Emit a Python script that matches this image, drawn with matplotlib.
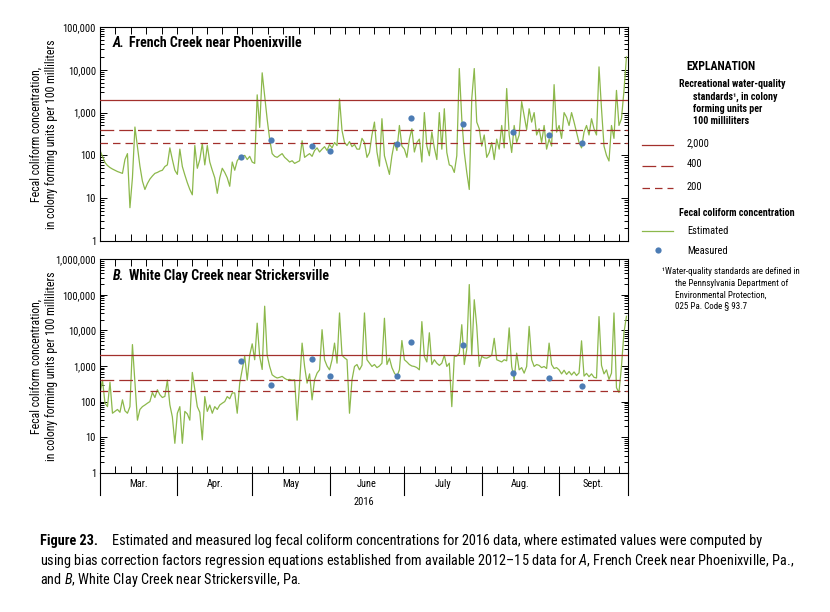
import numpy as np
import pandas as pd
import matplotlib
matplotlib.use("Agg")
import matplotlib.pyplot as plt
import matplotlib.dates as mdates
from matplotlib.lines import Line2D
from matplotlib.ticker import LogLocator, FixedLocator, FuncFormatter, NullFormatter

plt.rcParams['font.family'] = ['Roboto Condensed', 'DejaVu Sans']
plt.rcParams['mathtext.fontset'] = 'custom'
plt.rcParams['mathtext.rm'] = 'Roboto Condensed'
plt.rcParams['mathtext.it'] = 'Roboto Condensed:italic'

# daily estimated fecal coliform, colonies per 100 mL, 1 Mar - 28 Sept 2016
french_est = [
    # Mar.
    130, 95, 68, 58, 52, 48, 45, 42, 40, 38, 80, 110, 6, 30, 460, 160, 56, 25, 16, 22,
    28, 33, 38, 40, 43, 45, 55, 60, 150, 80, 45,
    # Apr.
    36, 140, 55, 35, 23, 16, 12, 170, 50, 80, 190, 60, 170, 70, 45, 30, 13, 30, 50, 40,
    30, 19, 70, 45, 75, 90, 95, 100, 80, 95,
    # May
    70, 65, 2600, 450, 8500, 2500, 700, 240, 110, 95, 90, 100, 110, 90, 80, 70, 75, 65, 70, 75,
    220, 90, 100, 110, 95, 130, 150, 120, 140, 160, 130,
    # June
    180, 150, 200, 170, 2100, 380, 200, 170, 210, 160, 180, 140, 140, 250, 200, 90, 117, 300, 600, 120,
    56, 720, 98, 60, 36, 98, 200, 130, 500, 165,
    # July
    140, 90, 240, 420, 120, 200, 240, 70, 1000, 165, 98, 350, 150, 80, 1000, 140, 1230, 117, 60, 56,
    40, 98, 10700, 720, 117, 40, 16, 2100, 10700, 600, 420,
    # Aug.
    165, 300, 90, 117, 200, 80, 240, 140, 500, 150, 3650, 300, 117, 500, 200, 300, 1800, 850, 400, 1230,
    600, 1000, 300, 420, 200, 500, 140, 240, 165, 4500, 350,
    # Sept.
    500, 250, 1000, 780, 500, 1000, 600, 350, 200, 150, 350, 500, 300, 720, 420, 300, 11700, 1230, 165, 100,
    74, 500, 250, 3300, 500, 720, 3200, 20000,
]

white_est = [
    # Mar.
    175, 400, 90, 72, 350, 47, 53, 60, 50, 112, 55, 47, 72, 4000, 330, 30, 60, 72, 80, 90,
    100, 180, 130, 215, 155, 130, 140, 400, 81, 37, 6.7,
    # Apr.
    47, 72, 6.7, 53, 45, 30, 660, 215, 72, 50, 8.4, 138, 53, 80, 47, 72, 60, 80, 90, 100,
    138, 120, 175, 175, 47, 330, 800, 1900, 400, 2000,
    # May
    4200, 1500, 16000, 1860, 800, 48000, 2000, 970, 565, 500, 460, 480, 510, 450, 410, 420, 400, 410, 30, 330,
    4400, 970, 330, 600, 112, 410, 630, 780, 10500, 1500, 1000,
    # June
    780, 1500, 4400, 1200, 31000, 2000, 1700, 1500, 47, 410, 970, 1100, 780, 1050, 31000, 1500, 1200, 970, 1100, 900,
    1000, 1200, 22000, 1100, 1660, 900, 630, 510, 780, 5200,
    # July
    1500, 1300, 1100, 1000, 970, 900, 780, 17700, 1860, 1300, 8600, 1100, 1500, 1200, 1040, 1200, 2000, 970, 1200, 72,
    1860, 1900, 2300, 14500, 1100, 3000, 195000, 2000, 73000, 13000, 970,
    # Aug.
    1860, 1700, 1660, 1800, 2000, 6000, 1500, 1400, 1300, 1500, 1400, 11800, 970, 410, 2300, 780, 900, 630, 970, 13000,
    1500, 970, 1100, 1040, 900, 970, 850, 4400, 1100, 850, 900,
    # Sept.
    780, 600, 760, 580, 700, 560, 680, 540, 640, 5100, 520, 620, 500, 600, 480, 460, 24500, 1040, 600, 780,
    420, 630, 31000, 245, 180, 970, 8700, 25000,
]

sample_dates = ["2016-04-26 12:00", "2016-05-08 10:00", "2016-05-25 03:00", "2016-06-01 05:00",
                "2016-06-27 22:00", "2016-07-03 20:00", "2016-07-24 12:00", "2016-08-13 08:00",
                "2016-08-28 03:00", "2016-09-10 03:00"]
french_meas = [92, 232, 168, 125, 187, 742, 545, 352, 305, 197]
white_meas = [1400, 290, 1590, 530, 520, 4600, 3870, 630, 455, 277]

standards = [2000, 400, 200]
standard_labels = ["2,000", "400", "200"]
month_labels = ["Mar.", "Apr.", "May", "June", "July", "Aug.", "Sept."]

GREEN = "#8cb84b"
BLUE = "#4c7cb4"
RED = "#a3302c"
dash_styles = ["-", (0, (11, 4)), (0, (6, 4))]

W, H = 830, 612
def fx(x):
    return x / W
def fy(y):
    return 1 - y / H

days = pd.date_range("2016-03-01", periods=len(french_est), freq="D")
meas_days = pd.to_datetime(sample_dates)
x0 = pd.Timestamp("2016-03-01")
x1 = pd.Timestamp("2016-09-28 12:00")
month_starts = pd.date_range("2016-03-01", "2016-09-01", freq="MS")

# five tick marks per month along top and bottom
tick_pos = []
for i, ms in enumerate(month_starts):
    me = month_starts[i + 1] if i + 1 < len(month_starts) else pd.Timestamp("2016-10-01")
    span = (me - ms) / 5
    for k in range(5):
        t = ms + span * k
        if t <= x1:
            tick_pos.append(mdates.date2num(t))

fig = plt.figure(figsize=(8.3, 6.12), dpi=100)

axA = fig.add_axes([fx(100), fy(241), fx(527.7), 214 / H])
axB = fig.add_axes([fx(100), fy(472.7), fx(527.7), 213.4 / H])

panels = [
    (axA, french_est, french_meas, 1e5, "A.", "French Creek near Phoenixville", 134),
    (axB, white_est, white_meas, 1e6, "B.", "White Clay Creek near Strickersville", 366),
]

for ax, est, meas, ytop, letter, name, ylab_y in panels:
    ax.plot(days, est, color=GREEN, lw=0.9, zorder=2)
    for val, ls in zip(standards, dash_styles):
        ax.axhline(val, color=RED, lw=0.9, ls=ls, zorder=3)
    ax.plot(meas_days, meas, "o", color=BLUE, ms=4.5, mec="none", zorder=4)
    ax.set_yscale("log")
    ax.set_ylim(1, ytop)
    ax.set_xlim(x0, x1)
    ax.yaxis.set_major_locator(LogLocator(base=10, numticks=10))
    ax.yaxis.set_minor_locator(LogLocator(base=10, subs=np.arange(2, 10), numticks=20))
    ax.yaxis.set_major_formatter(FuncFormatter(lambda v, p: f"{int(round(v)):,}"))
    ax.yaxis.set_minor_formatter(NullFormatter())
    ax.xaxis.set_major_locator(FixedLocator(tick_pos))
    ax.xaxis.set_major_formatter(NullFormatter())
    ax.xaxis.set_minor_locator(FixedLocator([]))
    ax.tick_params(axis="both", which="both", direction="in", top=True, right=True,
                   labelsize=7.5, width=0.7, pad=3)
    ax.tick_params(axis="y", which="major", length=5)
    ax.tick_params(axis="y", which="minor", length=3)
    ax.tick_params(axis="x", which="major", length=5)
    for s in ax.spines.values():
        s.set_linewidth(0.8)
    ax.text(12.7 / 527.7, 0.924, letter, transform=ax.transAxes, fontsize=10,
            fontweight="bold", fontstyle="italic", va="center", ha="left")
    ax.text(29.3 / 527.7, 0.924, name, transform=ax.transAxes, fontsize=10,
            fontweight="bold", va="center", ha="left")
    fig.text(fx(43.5), fy(ylab_y),
             "Fecal coliform concentration,\nin colony forming units per 100 milliliters",
             rotation=90, ha="center", va="center", multialignment="center",
             fontsize=8.5, linespacing=1.2)

# month band under panel B
trans = axB.get_xaxis_transform()
bounds = list(month_starts) + [x1]
band = 22 / 213.4
for b in bounds:
    axB.plot([b, b], [0, -band], color="black", lw=0.8, transform=trans, clip_on=False)
for i, lab in enumerate(month_labels):
    mid = bounds[i] + (bounds[i + 1] - bounds[i]) / 2
    axB.text(mid, -band / 2, lab, transform=trans, ha="center", va="center", fontsize=7.5)
axB.text(0.5, -(502 - 472.7) / 213.4, "2016", transform=axB.transAxes,
         ha="center", va="center", fontsize=7.5)

# explanation
fig.text(fx(686), fy(67), "EXPLANATION", fontsize=8.5, fontweight="bold", va="center")
fig.text(fx(679), fy(84), "Recreational water-quality", fontsize=7.2, fontweight="bold", va="center")
for txt, yy in [("standards\u00b9, in colony", 96.5), ("forming units per", 109), ("100 milliliters", 121)]:
    fig.text(fx(693), fy(yy), txt, fontsize=7.2, fontweight="bold", va="center")
for (val_lab, ls), yy in zip(zip(standard_labels, dash_styles), [145, 166, 188]):
    fig.add_artist(Line2D([fx(642), fx(673)], [fy(yy), fy(yy)], color=RED, lw=0.9, ls=ls))
    fig.text(fx(686.5), fy(yy - 1.5), val_lab, fontsize=7.5, va="center")
fig.text(fx(679), fy(213), "Fecal coliform concentration", fontsize=7.2, fontweight="bold", va="center")
fig.add_artist(Line2D([fx(642), fx(673)], [fy(231), fy(231)], color=GREEN, lw=0.9))
fig.text(fx(687), fy(230.5), "Estimated", fontsize=7.5, va="center")
fig.add_artist(Line2D([fx(657.7)], [fy(250)], marker="o", color=BLUE, ms=4.5, mec="none"))
fig.text(fx(687), fy(251), "Measured", fontsize=7.5, va="center")
foot = [("\u00b9Water-quality standards are defined in", 661.5, 272),
        ("the Pennsylvania Department of", 675, 283.5),
        ("Environmental Protection,", 675, 295),
        ("025 Pa. Code \u00a7 93.7", 675, 306)]
for txt, xx, yy in foot:
    fig.text(fx(xx), fy(yy), txt, fontsize=6.5, va="center")

# caption
fig.text(fx(40), fy(541), "Figure 23.", fontsize=10.3, fontweight="bold", va="center")
fig.text(fx(112), fy(541), "Estimated and measured log fecal coliform concentrations for 2016 data, "
         "where estimated values were computed by", fontsize=10.3, va="center")
fig.text(fx(40), fy(560.5), "using bias correction factors regression equations established from available "
         "2012\u201315 data for $\\mathit{A}$, French Creek near Phoenixville, Pa.,", fontsize=10.3, va="center")
fig.text(fx(40), fy(580), "and $\\mathit{B}$, White Clay Creek near Strickersville, Pa.",
         fontsize=10.3, va="center")

fig.savefig("out.png", dpi=100, facecolor="white")
